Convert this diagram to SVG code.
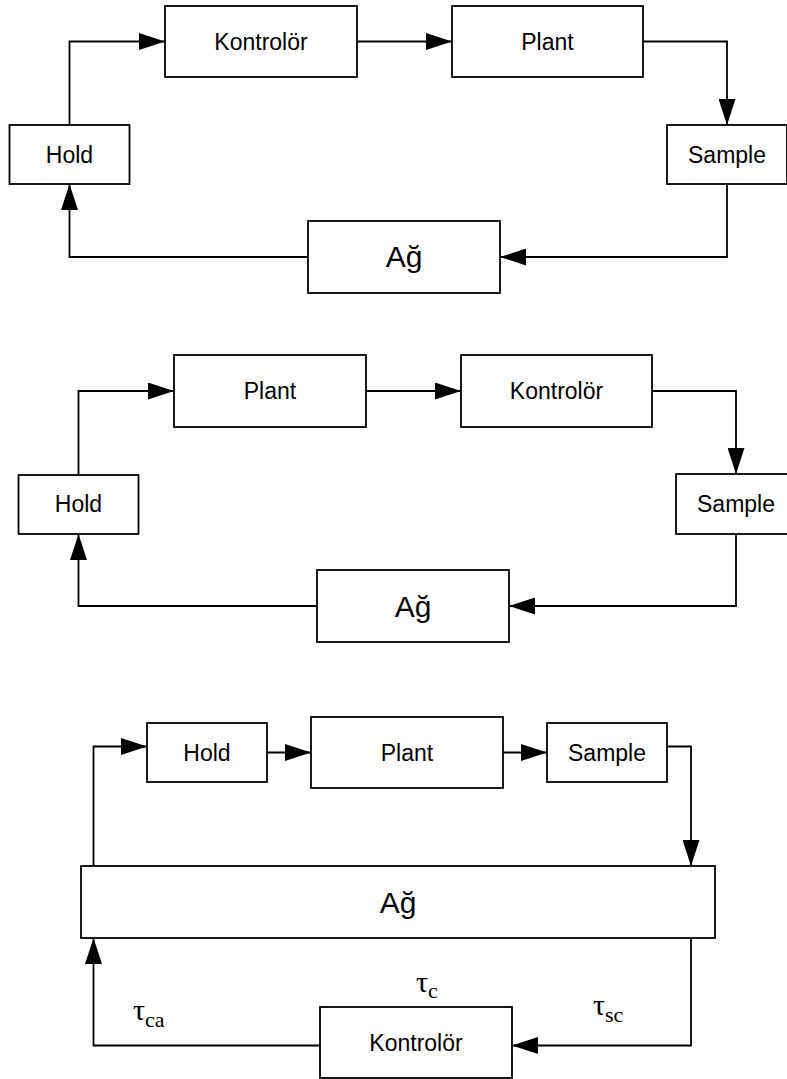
<svg xmlns="http://www.w3.org/2000/svg" width="787" height="1079" viewBox="0 0 787 1079">
<style>
.box{fill:#fff;stroke:#000;stroke-width:1.8}
.lbl{font-family:"Liberation Sans",Arial,sans-serif;font-size:23px;text-anchor:middle;fill:#000}
.big{font-family:"Liberation Sans",Arial,sans-serif;font-size:30px;text-anchor:middle;fill:#000}
.con{fill:none;stroke:#000;stroke-width:1.8}
.tau{font-family:"Liberation Serif","Times New Roman",serif;font-size:30px;fill:#000}
.sub{font-size:22px}
</style>
<defs>
<marker id="ah" markerUnits="userSpaceOnUse" markerWidth="26" markerHeight="17" refX="26" refY="8.5" orient="auto">
<path d="M0,0 L26,8.5 L0,17 z" fill="#000"/>
</marker>
</defs>
<rect width="787" height="1079" fill="#fff"/>

<g id="connectors">
<path class="con" marker-end="url(#ah)" d="M69.5,125 V41.5 H165"/>
<path class="con" marker-end="url(#ah)" d="M357,41.5 H452"/>
<path class="con" marker-end="url(#ah)" d="M643,41.5 H727 V125"/>
<path class="con" marker-end="url(#ah)" d="M727,184 V257 H500"/>
<path class="con" marker-end="url(#ah)" d="M308,257 H69.5 V184"/>

<path class="con" marker-end="url(#ah)" d="M78.5,475 V391 H174"/>
<path class="con" marker-end="url(#ah)" d="M366,391 H461"/>
<path class="con" marker-end="url(#ah)" d="M652,391 H736 V474"/>
<path class="con" marker-end="url(#ah)" d="M736,534 V606 H509"/>
<path class="con" marker-end="url(#ah)" d="M317,606 H78.5 V534"/>

<path class="con" marker-end="url(#ah)" d="M93.5,866 V746.5 H147"/>
<path class="con" marker-end="url(#ah)" d="M267,752.5 H311"/>
<path class="con" marker-end="url(#ah)" d="M503,752.5 H547"/>
<path class="con" marker-end="url(#ah)" d="M667,746.5 H691 V866"/>
<path class="con" marker-end="url(#ah)" d="M691,938 V1045.5 H512"/>
<path class="con" marker-end="url(#ah)" d="M320,1045.5 H93.5 V938"/>
</g>

<g id="d1-kontrolor"><rect class="box" x="165" y="6" width="192" height="71"/><text class="lbl" x="261" y="49.5">Kontrolör</text></g>
<g id="d1-plant"><rect class="box" x="452" y="6" width="191" height="71"/><text class="lbl" x="547.5" y="49.5">Plant</text></g>
<g id="d1-hold"><rect class="box" x="9.5" y="125" width="120" height="59"/><text class="lbl" x="69.5" y="162.5">Hold</text></g>
<g id="d1-sample"><rect class="box" x="667" y="125" width="120" height="59"/><text class="lbl" x="727" y="162.5">Sample</text></g>
<g id="d1-ag"><rect class="box" x="308" y="221" width="192" height="72"/><text class="big" x="404" y="267">Ağ</text></g>

<g id="d2-plant"><rect class="box" x="174" y="355" width="192" height="72"/><text class="lbl" x="270" y="399">Plant</text></g>
<g id="d2-kontrolor"><rect class="box" x="461" y="355" width="191" height="72"/><text class="lbl" x="556.5" y="399">Kontrolör</text></g>
<g id="d2-hold"><rect class="box" x="18.5" y="475" width="120" height="59"/><text class="lbl" x="78.5" y="512">Hold</text></g>
<g id="d2-sample"><rect class="box" x="676" y="474" width="120" height="60"/><text class="lbl" x="736" y="512">Sample</text></g>
<g id="d2-ag"><rect class="box" x="317" y="570" width="192" height="72"/><text class="big" x="413" y="616.5">Ağ</text></g>

<g id="d3-hold"><rect class="box" x="147" y="723" width="120" height="59"/><text class="lbl" x="207" y="760.5">Hold</text></g>
<g id="d3-plant"><rect class="box" x="311" y="717" width="192" height="71"/><text class="lbl" x="407" y="760.5">Plant</text></g>
<g id="d3-sample"><rect class="box" x="547" y="723" width="120" height="59"/><text class="lbl" x="607" y="760.5">Sample</text></g>
<g id="d3-ag"><rect class="box" x="81" y="866" width="634" height="72"/><text class="big" x="398" y="912.5">Ağ</text></g>
<g id="d3-kontrolor"><rect class="box" x="320" y="1007" width="192" height="71"/><text class="lbl" x="416" y="1050.5">Kontrolör</text></g>

<g id="labels">
<text class="tau" x="133" y="1020">τ<tspan class="sub" dy="6.5">ca</tspan></text>
<text class="tau" x="416" y="991.5">τ<tspan class="sub" dy="6.5">c</tspan></text>
<text class="tau" x="593" y="1015">τ<tspan class="sub" dy="6.5">sc</tspan></text>
</g>
</svg>
